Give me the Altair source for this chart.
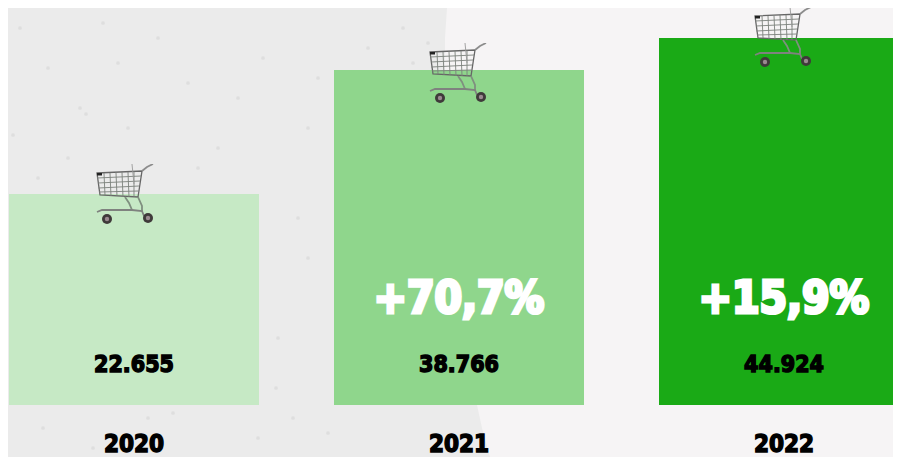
import base64
import altair as alt
import pandas as pd

years = ["2020", "2021", "2022"]
totals = ["22.655", "38.766", "44.924"]
bar_heights = [211, 335, 367]
changes = ["", "+70,7%", "+15,9%"]
colors = ["#c6e9c5", "#8fd68c", "#1aaa16"]
edge_y = [0, 30, 60, 120, 220, 320, 397, 420, 449]
edge_x = [439, 437, 437, 442, 450, 460, 469, 474, 482]
speck_x = [72, 78, 5, 40, 150, 290, 60, 230, 300, 360, 20, 120, 12, 95, 180, 210, 255, 310, 330, 270, 30, 110, 190, 395, 420, 405, 300, 268, 285, 320, 8, 140, 250, 35, 85, 165]
speck_y = [100, 106, 127, 60, 30, 210, 150, 90, 120, 40, 260, 120, 20, 15, 75, 140, 50, 70, 300, 330, 170, 55, 160, 20, 35, 55, 250, 380, 410, 425, 395, 410, 430, 420, 440, 405]

cart_svg = """<svg xmlns='http://www.w3.org/2000/svg' viewBox='0 0 60 62'>
<g fill='none' stroke='#7c817c' stroke-width='0.9'>
<path d='M1 9 L46 7 L42 33 L4 31 Z' stroke-width='1.3' stroke='#666'/>
<path d='M1 14 L45 12 M2 19 L44 17 M2.5 24 L43 22 M3 28 L42.5 27'/>
<path d='M8 9 L9 31 M14 9 L15 32 M20 8.500 L21 32 M26 8 L27 33 M32 8 L33 33 M38 7.500 L38 33'/>
<path d='M36 0 L38 20' stroke='#999'/>
<path d='M46 7 L51 3 L57 0' stroke='#8c8c8c' stroke-width='1.8'/>
<path d='M29 33 L33 39 L36 46 M42 33 L46 42 L46 48' stroke='#7f8f7f' stroke-width='1.8'/>
<path d='M1 48 L6 46 L36 46 L46 47 L48 52' stroke='#7f827f' stroke-width='1.8'/>
</g>
<rect x='1' y='9' width='5' height='2.500' fill='#222'/>
<circle cx='11' cy='55' r='5' fill='#3f3a3a'/><circle cx='11' cy='55' r='2.200' fill='#9a8a90'/>
<circle cx='52' cy='54' r='5' fill='#3f3a3a'/><circle cx='52' cy='54' r='2.200' fill='#9a8a90'/>
</svg>"""
cart_url = "data:image/svg+xml;base64," + base64.b64encode(cart_svg.encode()).decode()

df = pd.DataFrame({"year": years, "total": totals, "h": bar_heights, "change": changes, "color": colors})
df["url"] = cart_url
edge = pd.DataFrame({"x": edge_x, "x0": [0] * len(edge_x), "y": edge_y})
specks = pd.DataFrame({"x": speck_x, "y": speck_y})

W, H = 885, 449
px_x = alt.Scale(domain=[0, W], range=[0, W])
px_y = alt.Scale(domain=[0, H], range=[0, H])
xb = alt.X("year:N", axis=None, scale=alt.Scale(type="band", domain=years, range=[1, 901], paddingInner=0.2308, paddingOuter=0))
yb = alt.Scale(domain=[-52, 397], range=[H, 0])
FONT = "DejaVu Sans Condensed"

paper = alt.Chart(edge).mark_area(orient="horizontal", color="#ebebeb").encode(
    y=alt.Y("y:Q", axis=None, scale=px_y),
    x=alt.X("x:Q", axis=None, scale=px_x),
    x2="x0:Q",
)
grain = alt.Chart(specks).mark_point(filled=True, color="#d8d8d8", size=14, opacity=0.7).encode(
    x=alt.X("x:Q", axis=None, scale=px_x),
    y=alt.Y("y:Q", axis=None, scale=px_y),
)
bars = alt.Chart(df).mark_bar(size=250).encode(
    x=xb,
    y=alt.Y("h:Q", axis=None, scale=yb),
    y2=alt.Y2(datum=0),
    color=alt.Color("color:N", scale=None, legend=None),
)
layers = [paper, grain, bars]
for i, dy in enumerate([1, 4, 0]):
    dx = [-8, 0, 0][i]
    layers.append(
        alt.Chart(df.iloc[[i]]).mark_image(width=60, height=62, xOffset=dx, yOffset=dy).encode(
            x=xb, y=alt.Y("h:Q", axis=None, scale=yb), url="url:N"
        )
    )
def label(field, size, color, ypx, sw):
    return alt.Chart(df).mark_text(
        font=FONT, fontWeight="bold", fontSize=size, fill=color, stroke=color, strokeWidth=sw, baseline="middle"
    ).encode(x=xb, y=alt.value(ypx), text=f"{field}:N")

layers.append(label("change", 44, "#ffffff", 292, 3.2))
layers.append(label("total", 23, "#000000", 357, 1.4))
layers.append(label("year", 24, "#000000", 437, 1.4))

chart = alt.layer(*layers).resolve_scale(x="independent", y="independent").properties(
    width=W, height=H, background="#f6f4f5", padding=0,
    autosize=alt.AutoSizeParams(type="none"),
).configure_view(stroke=None)
chart.save("out.html", embed_options={"renderer": "svg", "actions": False})
